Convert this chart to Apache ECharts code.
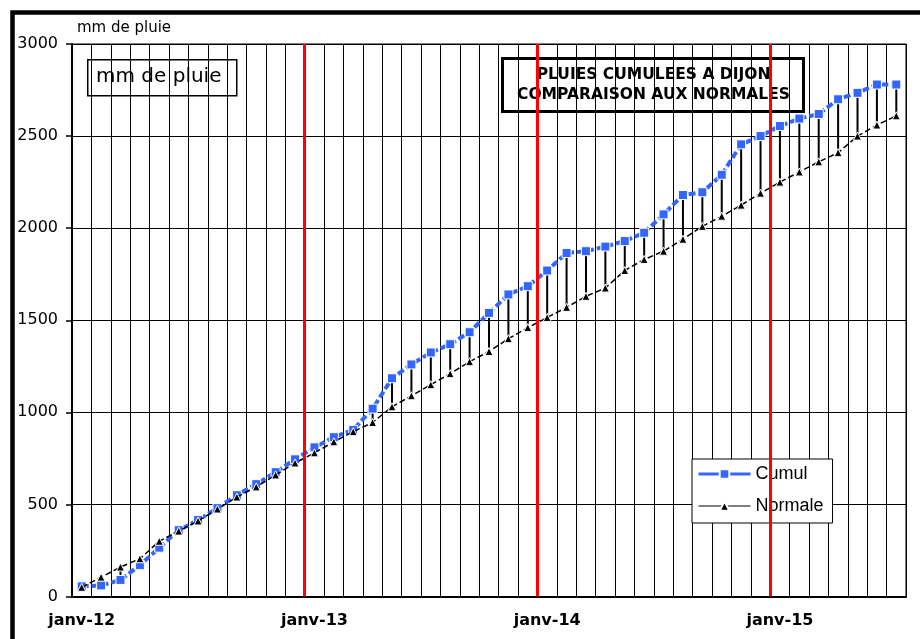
<!DOCTYPE html>
<html><head><meta charset="utf-8">
<script src="https://cdn.jsdelivr.net/npm/echarts@6/dist/echarts.min.js"></script>
<style>html,body{margin:0;padding:0;background:#fff}#c{width:920px;height:639px}</style>
</head><body><div id="c"></div>
<script>
const categories = [
  'janv-12','févr-12','mars-12','avr-12','mai-12','juin-12','juil-12','août-12','sept-12','oct-12','nov-12','déc-12',
  'janv-13','févr-13','mars-13','avr-13','mai-13','juin-13','juil-13','août-13','sept-13','oct-13','nov-13','déc-13',
  'janv-14','févr-14','mars-14','avr-14','mai-14','juin-14','juil-14','août-14','sept-14','oct-14','nov-14','déc-14',
  'janv-15','févr-15','mars-15','avr-15','mai-15','juin-15','juil-15'
];
const cumul = [55,60,90,170,265,360,415,480,550,610,675,745,
  810,865,905,1020,1185,1260,1325,1370,1435,1540,1640,1685,
  1770,1865,1875,1900,1930,1975,2075,2180,2195,2290,2455,2500,
  2555,2595,2620,2700,2735,2780,2780];
const normale = [50,105,160,205,300,355,410,475,540,595,660,725,
  780,840,895,945,1030,1090,1150,1210,1275,1330,1400,1460,
  1515,1570,1630,1675,1770,1830,1875,1940,2010,2065,2125,2190,
  2250,2305,2360,2410,2500,2560,2610];
const yAxisName = 'mm de pluie';
const boxLabel = 'mm de pluie';
const titleLines = ['PLUIES CUMULEES A DIJON', 'COMPARAISON AUX NORMALES'];
const seriesNames = ['Cumul', 'Normale'];

const FONT = 'DejaVu Sans';
const yearStarts = categories.map((c, i) => (i > 0 && c.startsWith('janv')) ? i : null).filter(v => v !== null);

const chart = echarts.init(document.getElementById('c'), null, {renderer: 'canvas'});
chart.setOption({
  animation: false,
  backgroundColor: '#fff',
  grid: {left: 72, right: 14, top: 44, bottom: 42.5, show: true, borderColor: '#000', borderWidth: 1},
  legend: {
    data: [
      {name: seriesNames[0], lineStyle: {width: 3, type: 'solid', color: '#3366ff'}},
      {name: seriesNames[1], lineStyle: {width: 1, type: 'solid', color: '#000'}}
    ],
    orient: 'vertical', left: 692, top: 459,
    backgroundColor: '#fff', borderColor: '#000', borderWidth: 1,
    padding: [5, 9, 7, 5], itemWidth: 52, itemHeight: 12, itemGap: 12,
    textStyle: {fontFamily: 'Liberation Sans', fontSize: 18, lineHeight: 20, color: '#000'}
  },
  xAxis: [{
    type: 'category', data: categories, boundaryGap: true,
    axisLine: {lineStyle: {color: '#000', width: 2}},
    axisTick: {interval: 11, length: 7, lineStyle: {color: '#000', width: 1.5}},
    axisLabel: {interval: 11, margin: 16, fontFamily: FONT, fontSize: 16, fontWeight: 'bold', color: '#000'},
    splitLine: {show: true, interval: 0, lineStyle: {color: '#000', width: 1}}
  }, {
    type: 'value', min: 0, max: categories.length, show: false
  }],
  yAxis: {
    type: 'value', min: 0, max: 3000, interval: 500,
    name: yAxisName, nameLocation: 'end', nameGap: 8,
    nameTextStyle: {fontFamily: FONT, fontSize: 15, color: '#000', align: 'left', padding: [0, 0, 0, 5]},
    axisLine: {show: true, lineStyle: {color: '#000', width: 2}},
    axisTick: {show: true, length: 6, lineStyle: {color: '#000', width: 1.5}},
    axisLabel: {margin: 14, fontFamily: FONT, fontSize: 16, color: '#000', formatter: v => String(v)},
    splitLine: {show: true, lineStyle: {color: '#000', width: 1.2}}
  },
  graphic: [
    {type: 'rect', left: 10, top: 10, z: 100, silent: true,
      shape: {x: 0, y: 0, width: 1000, height: 700},
      style: {fill: 'none', stroke: '#000', lineWidth: 4.5}},
    {type: 'group', left: 87, top: 59, z: 50, children: [
      {type: 'rect', shape: {x: 0, y: 0, width: 149, height: 36},
        style: {fill: '#fff', stroke: '#000', lineWidth: 1.5}},
      {type: 'text', x: 71, y: 17, style: {text: boxLabel, font: '20px "DejaVu Sans"', fill: '#000', align: 'center', verticalAlign: 'middle'}}
    ]},
    {type: 'group', left: 501, top: 57, z: 50, children: [
      {type: 'rect', shape: {x: 0, y: 0, width: 301, height: 53},
        style: {fill: '#fff', stroke: '#000', lineWidth: 3}},
      {type: 'text', x: 151, y: 26, style: {text: titleLines.join('\n'), font: 'bold 15.5px "DejaVu Sans"', lineHeight: 20, fill: '#000', align: 'center', verticalAlign: 'middle'}}
    ]}
  ],
  series: [
    {
      type: 'line', xAxisIndex: 1, data: [], silent: true, z: 1,
      markLine: {
        silent: true, symbol: 'none', animation: false,
        label: {show: false},
        lineStyle: {color: '#ff0000', width: 3, type: 'solid'},
        data: yearStarts.map(v => ({xAxis: v}))
      }
    },
    {
      type: 'custom', z: 2, silent: true,
      data: categories.map((c, i) => [i, cumul[i], normale[i]]),
      encode: {x: 0, y: [1, 2]},
      renderItem: function (params, api) {
        const p1 = api.coord([api.value(0), api.value(1)]);
        const p2 = api.coord([api.value(0), api.value(2)]);
        return {type: 'line', shape: {x1: p1[0], y1: p1[1], x2: p2[0], y2: p2[1]},
          style: {stroke: '#000', lineWidth: 2}};
      }
    },
    {
      name: seriesNames[0], type: 'line', data: cumul, z: 3,
      symbol: 'rect', symbolSize: 9,
      lineStyle: {color: '#3366ff', width: 4, type: [7, 3]},
      itemStyle: {color: '#3366ff', borderColor: '#fff', borderWidth: 1}
    },
    {
      name: seriesNames[1], type: 'line', data: normale, z: 4,
      symbol: 'triangle', symbolSize: 8,
      lineStyle: {color: '#000', width: 1.5, type: [6, 3]},
      itemStyle: {color: '#000', borderColor: '#fff', borderWidth: 1}
    }
  ]
});
</script>
</body></html>
